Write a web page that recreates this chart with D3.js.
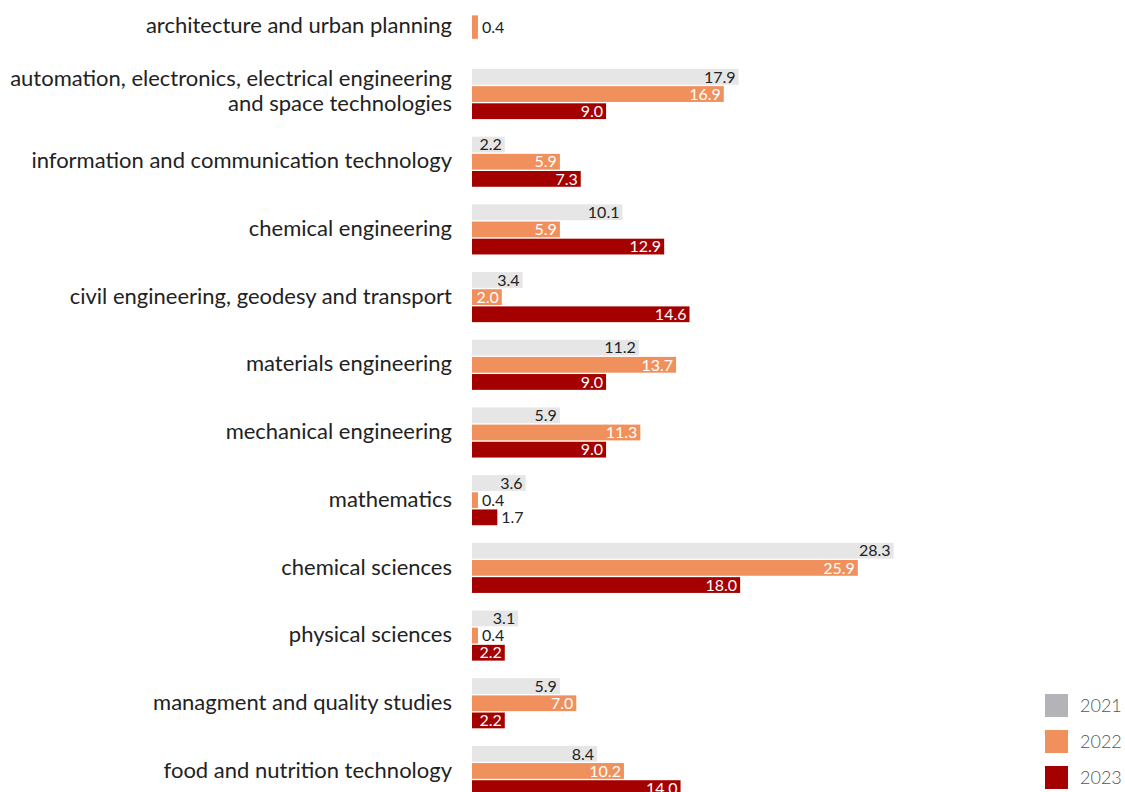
<!DOCTYPE html>
<html>
<head>
<meta charset="utf-8">
<script src="https://cdn.jsdelivr.net/npm/d3@7"></script>
<style>
  body { margin: 0; background: #fff; }
  svg { font-family: Lato, "Open Sans", sans-serif; display: block; }
</style>
</head>
<body>
<script>
const categories = [
  "architecture and urban planning",
  "automation, electronics, electrical engineering\nand space technologies",
  "information and communication technology",
  "chemical engineering",
  "civil engineering, geodesy and transport",
  "materials engineering",
  "mechanical engineering",
  "mathematics",
  "chemical sciences",
  "physical sciences",
  "managment and quality studies",
  "food and nutrition technology"
];
const years = ["2021", "2022", "2023"];
const values2021 = [null, 17.9, 2.2, 10.1, 3.4, 11.2, 5.9, 3.6, 28.3, 3.1, 5.9, 8.4];
const values2022 = [0.4, 16.9, 5.9, 5.9, 2.0, 13.7, 11.3, 0.4, 25.9, 0.4, 7.0, 10.2];
const values2023 = [null, 9.0, 7.3, 12.9, 14.6, 9.0, 9.0, 1.7, 18.0, 2.2, 2.2, 14.0];

const width = 1125, height = 792;
const barColors = { "2021": "#e6e6e6", "2022": "#f0905c", "2023": "#a50000" };
const swatchColors = { "2021": "#b3b3b8", "2022": "#f0905c", "2023": "#a50000" };
const labelColors = { "2021": "#222", "2022": "#fff", "2023": "#fff" };

const series = { "2021": values2021, "2022": values2022, "2023": values2023 };
const rows = categories.map((c, i) => ({
  name: c,
  bars: years.filter(y => series[y][i] != null).map(y => ({ year: y, value: series[y][i] }))
}));

const svg = d3.select("body").append("svg")
  .attr("width", width)
  .attr("height", height);

const x = d3.scaleLinear().domain([0, 29]).range([472, 904]);
const y = d3.scaleBand().domain(categories).range([1.3, 796]).paddingInner(0.26).paddingOuter(0);
const inner = d3.scaleBand().domain(years).range([0, y.bandwidth()]).paddingInner(0.08);

const g = svg.selectAll("g.row")
  .data(rows)
  .enter()
    .append("g")
    .attr("class", "row")
    .attr("transform", d => `translate(0,${y(d.name)})`);

// category labels
g.append("text")
  .attr("x", 452)
  .attr("text-anchor", "end")
  .attr("font-size", 22)
  .attr("fill", "#222")
  .each(function(d) {
    const lines = d.name.split("\n");
    const c = y.bandwidth() / 2 + (lines.length > 1 ? -3 : -1);
    d3.select(this).selectAll("tspan")
      .data(lines)
      .enter()
        .append("tspan")
        .attr("x", 452)
        .attr("y", (l, i) => c + (i - (lines.length - 1) / 2) * 24.5)
        .attr("dy", "0.35em")
        .text(l => l);
  });

const bar = g.selectAll("g.bar")
  .data(d => d.bars.map(b => Object.assign({ single: d.bars.length === 1 }, b)))
  .enter()
    .append("g")
    .attr("class", "bar");

function barY(d) {
  if (d.single) return y.bandwidth() / 2 - 11;
  return inner(d.year);
}
function barH(d) {
  return d.single ? 23.5 : inner.bandwidth();
}

bar.append("rect")
  .attr("x", x(0))
  .attr("y", barY)
  .attr("width", d => x(d.value) - x(0))
  .attr("height", barH)
  .attr("fill", d => barColors[d.year]);

bar.append("text")
  .attr("font-size", 16)
  .attr("y", d => barY(d) + barH(d) / 2)
  .attr("dy", "0.36em")
  .text(d => d.value.toFixed(1))
  .each(function(d) {
    const w = this.getComputedTextLength();
    const bw = x(d.value) - x(0);
    const t = d3.select(this);
    if (w + 4 <= bw) {
      t.attr("x", x(d.value) - 3).attr("text-anchor", "end").attr("fill", labelColors[d.year]);
    } else {
      t.attr("x", x(d.value) + 4).attr("text-anchor", "start").attr("fill", "#222");
    }
  });

// legend
const legend = svg.append("g")
  .selectAll("g")
  .data(years)
  .enter()
    .append("g")
    .attr("transform", (d, i) => `translate(1045,${694 + i * 36})`);

legend.append("rect")
  .attr("width", 23)
  .attr("height", 23)
  .attr("fill", d => swatchColors[d]);

legend.append("text")
  .attr("x", 35)
  .attr("y", 11.5)
  .attr("dy", "0.36em")
  .attr("font-size", 18)
  .attr("font-weight", 300)
  .attr("fill", "#555")
  .text(d => d);
</script>
</body>
</html>
